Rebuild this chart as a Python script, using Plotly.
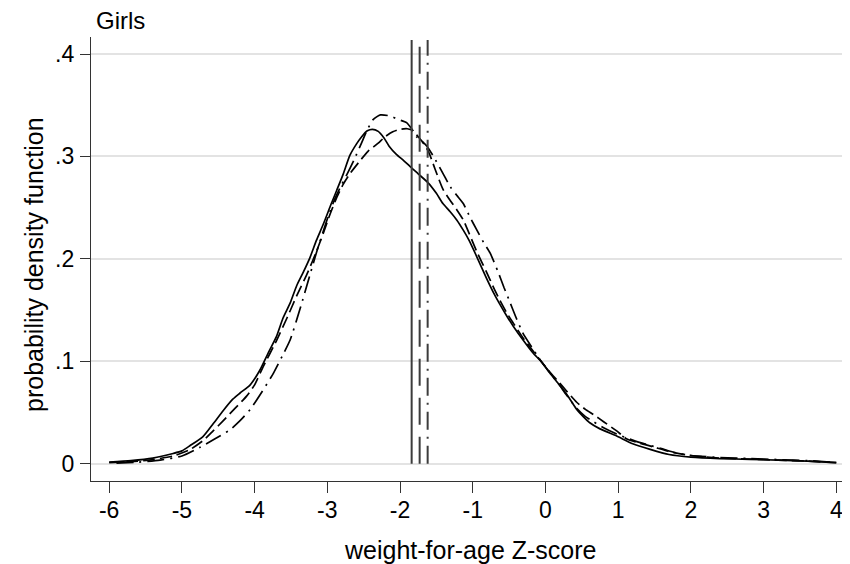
import plotly.graph_objects as go

# ---- data ----
solid_x = [-6.00, -5.70, -5.40, -5.12, -5.00, -4.89, -4.71, -4.57, -4.43, -4.30, -4.20, -4.06, -3.93, -3.80,
           -3.70, -3.61, -3.51, -3.42, -3.33, -3.24, -3.15, -3.06, -2.95, -2.87, -2.78, -2.69, -2.60, -2.53,
           -2.45, -2.38, -2.30, -2.22, -2.15, -2.05, -1.95, -1.86, -1.75, -1.61, -1.50, -1.41, -1.31, -1.22,
           -1.13, -1.05, -0.95, -0.81, -0.70, -0.63, -0.53, -0.44, -0.30, -0.17, -0.05, 0.06, 0.18, 0.29,
           0.43, 0.52, 0.61, 0.75, 0.98, 1.20, 1.44, 1.70, 2.00, 2.40, 2.81, 3.20, 3.60, 4.00]
solid_y = [0.0015, 0.0030, 0.0055, 0.0100, 0.0125, 0.0175, 0.0265, 0.0390, 0.0520, 0.0630, 0.0690, 0.0770,
           0.0910, 0.1100, 0.1240, 0.1420, 0.1570, 0.1740, 0.1870, 0.2010, 0.2180, 0.2330, 0.2530, 0.2670,
           0.2830, 0.3010, 0.3120, 0.3190, 0.3250, 0.3265, 0.3245, 0.3180, 0.3100, 0.3020, 0.2960, 0.2900,
           0.2830, 0.2740, 0.2640, 0.2540, 0.2460, 0.2380, 0.2280, 0.2180, 0.2030, 0.1810, 0.1650, 0.1560,
           0.1440, 0.1340, 0.1200, 0.1080, 0.0990, 0.0885, 0.0780, 0.0680, 0.0530, 0.0460, 0.0400, 0.0340,
           0.0270, 0.0195, 0.0140, 0.0090, 0.0065, 0.0050, 0.0042, 0.0035, 0.0025, 0.0010]

dash_x = [-6.00, -5.70, -5.40, -5.12, -4.89, -4.70, -4.57, -4.43, -4.27, -4.11, -4.00, -3.88, -3.70, -3.55,
          -3.42, -3.28, -3.15, -3.05, -2.96, -2.87, -2.78, -2.69, -2.57, -2.44, -2.30, -2.21, -2.10, -2.00,
          -1.90, -1.82, -1.77, -1.70, -1.61, -1.52, -1.41, -1.31, -1.22, -1.13, -1.08, -0.95, -0.81, -0.70,
          -0.63, -0.53, -0.44, -0.30, -0.17, -0.05, 0.06, 0.18, 0.29, 0.43, 0.55, 0.66, 0.80, 0.98, 1.12,
          1.30, 1.48, 1.70, 2.00, 2.40, 2.81, 3.20, 3.60, 4.00]
dash_y = [0.0010, 0.0020, 0.0040, 0.0075, 0.0137, 0.0230, 0.0320, 0.0420, 0.0540, 0.0660, 0.0770, 0.0950,
          0.1200, 0.1430, 0.1640, 0.1850, 0.2070, 0.2260, 0.2440, 0.2600, 0.2730, 0.2830, 0.2940, 0.3050,
          0.3130, 0.3190, 0.3240, 0.3265, 0.3270, 0.3250, 0.3210, 0.3150, 0.3050, 0.2880, 0.2680, 0.2570,
          0.2480, 0.2380, 0.2300, 0.2080, 0.1870, 0.1700, 0.1600, 0.1470, 0.1370, 0.1220, 0.1100, 0.0990,
          0.0895, 0.0800, 0.0710, 0.0600, 0.0530, 0.0480, 0.0410, 0.0320, 0.0240, 0.0200, 0.0165, 0.0120,
          0.0080, 0.0055, 0.0045, 0.0035, 0.0025, 0.0010]

dashdot_x = [-5.90, -5.60, -5.30, -5.00, -4.75, -4.55, -4.34, -4.20, -4.06, -3.90, -3.74, -3.62, -3.51,
             -3.38, -3.24, -3.15, -3.06, -2.98, -2.90, -2.82, -2.74, -2.63, -2.53, -2.45, -2.37, -2.27,
             -2.14, -2.02, -1.91, -1.84, -1.77, -1.70, -1.63, -1.54, -1.41, -1.31, -1.22, -1.13, -1.04,
             -0.95, -0.85, -0.76, -0.65, -0.57, -0.49, -0.40, -0.31, -0.19, -0.05, 0.06, 0.18, 0.29, 0.43,
             0.55, 0.66, 0.80, 0.98, 1.20, 1.40, 1.57, 1.80, 2.00, 2.40, 2.81, 3.20, 3.60, 4.00]
dashdot_y = [0.0005, 0.0015, 0.0035, 0.0075, 0.0160, 0.0240, 0.0330, 0.0420, 0.0530, 0.0700, 0.0885,
             0.1050, 0.1210, 0.1500, 0.1840, 0.2060, 0.2260, 0.2430, 0.2580, 0.2700, 0.2810, 0.2970,
             0.3130, 0.3260, 0.3360, 0.3405, 0.3395, 0.3360, 0.3330, 0.3270, 0.3190, 0.3150, 0.3100,
             0.3000, 0.2835, 0.2705, 0.2620, 0.2540, 0.2410, 0.2290, 0.2160, 0.2055, 0.1870, 0.1720,
             0.1580, 0.1420, 0.1275, 0.1140, 0.0990, 0.0890, 0.0780, 0.0670, 0.0540, 0.0460, 0.0410,
             0.0350, 0.0290, 0.0230, 0.0185, 0.0153, 0.0104, 0.0080, 0.0060, 0.0050, 0.0040, 0.0030,
             0.0012]

# means (vertical reference lines)
mean_x = [-1.84, -1.73, -1.62]

x_tick_vals = [-6, -5, -4, -3, -2, -1, 0, 1, 2, 3, 4]
x_tick_text = ["-6", "-5", "-4", "-3", "-2", "-1", "0", "1", "2", "3", "4"]
y_tick_vals = [0, 0.1, 0.2, 0.3, 0.4]
y_tick_text = ["0", ".1", ".2", ".3", ".4"]

X_RANGE = [-6.25, 4.175]
Y_RANGE = [-0.0169, 0.4166]

FONT = "Liberation Sans, Arial, sans-serif"
FS_TICK = 23
FS_TITLE = 25
FS_GIRLS = 24

fig = go.Figure()

curve_styles = [
    (solid_x, solid_y, "solid"),
    (dash_x, dash_y, "12px,5px"),
    (dashdot_x, dashdot_y, "17px,6px,2px,6px"),
]
for xs, ys, dash in curve_styles:
    fig.add_trace(go.Scatter(x=xs, y=ys, mode="lines",
                             line=dict(color="black", width=1.7, dash=dash, shape="spline", smoothing=0.6),
                             showlegend=False, hoverinfo="skip"))

vline_dashes = ["solid", "27px,12px", "18px,7px,2px,7px"]
for xv, dash in zip(mean_x, vline_dashes):
    fig.add_shape(type="line", xref="x", yref="y", x0=xv, x1=xv, y0=0, y1=Y_RANGE[1] - 0.003,
                  line=dict(color="#3c3c3c", width=2, dash=dash))

# the page body has an 8px margin, so the figure is 8px smaller and margins shifted
fig.update_layout(
    template="none",
    width=842, height=556,
    margin=dict(l=83, r=1, t=29, b=83),
    paper_bgcolor="white", plot_bgcolor="white",
    font=dict(family=FONT, size=FS_TICK, color="black"),
    showlegend=False,
)

fig.update_xaxes(
    range=X_RANGE, showgrid=False, zeroline=False, automargin=False,
    showline=True, linecolor="#333333", linewidth=1.3, mirror=False,
    ticks="outside", ticklen=11, tickwidth=1.3, tickcolor="#333333",
    tickvals=x_tick_vals, ticktext=x_tick_text,
    tickfont=dict(size=FS_TICK), ticklabelstandoff=-3,
)
fig.update_yaxes(
    range=Y_RANGE, showgrid=True, gridcolor="#e3e3e3", gridwidth=1.5, zeroline=False, automargin=False,
    showline=True, linecolor="#333333", linewidth=1.3, mirror=False,
    ticks="outside", ticklen=10, tickwidth=1.3, tickcolor="#333333",
    tickvals=y_tick_vals, ticktext=y_tick_text,
    tickfont=dict(size=FS_TICK), ticklabelstandoff=1,
)

# axis titles as annotations for exact placement
fig.add_annotation(text="weight-for-age Z-score", xref="paper", yref="paper", x=0.5, y=0,
                   xanchor="center", yanchor="middle", yshift=-69,
                   showarrow=False, font=dict(size=FS_TITLE))
fig.add_annotation(text="probability density function", xref="paper", yref="paper", x=0, y=0.5,
                   xanchor="center", yanchor="middle", xshift=-57, yshift=-6, textangle=-90,
                   showarrow=False, font=dict(size=FS_TITLE))
fig.add_annotation(text="Girls", xref="paper", yref="paper", x=0, y=1,
                   xanchor="left", yanchor="bottom", xshift=3, yshift=1,
                   showarrow=False, font=dict(size=FS_GIRLS))

fig.write_html("out.html")
